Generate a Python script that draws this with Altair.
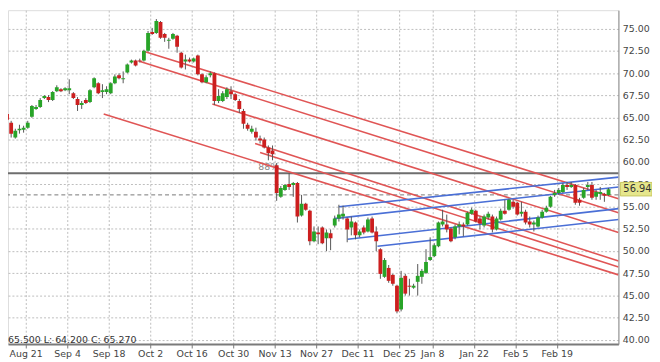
import altair as alt
import pandas as pd

# ---------------- data ----------------
day_index = list(range(-7, 141))
opens = [64.75, 65.30, 65.41, 64.41, 62.75, 63.58, 63.63, 63.86, 65.08, 65.97,
         66.19, 67.19, 67.30, 66.97, 67.97, 68.19, 68.08, 68.08, 67.74, 67.08,
         66.41, 66.97, 66.74, 68.41, 68.86, 67.86, 67.86, 67.74, 68.86, 69.75,
         69.30, 70.08, 71.19, 71.41, 71.41, 71.41, 72.52, 74.63, 74.52, 75.74,
         74.41, 73.63, 73.86, 74.19, 72.30, 71.30, 71.52, 71.30, 71.97, 69.86,
         68.97, 69.75, 69.97, 66.86, 66.86, 67.30, 67.97, 67.63, 66.86, 65.74,
         64.19, 63.41, 63.41, 62.63, 62.52, 61.63, 61.30, 59.63, 56.08, 56.86,
         57.52, 57.41, 57.63, 53.97, 55.30, 54.52, 51.08, 52.08, 52.63, 51.41,
         51.97, 52.86, 53.63, 53.86, 53.63, 52.63, 53.19, 51.75, 52.63, 52.19,
         53.63, 52.19, 50.19, 47.08, 48.08, 47.30, 46.08, 43.41, 47.19, 46.08,
         45.86, 46.52, 47.08, 47.52, 48.97, 49.41, 50.52, 52.97, 52.97, 52.52,
         51.52, 52.75, 52.97, 52.97, 54.19, 54.52, 53.63, 52.86, 53.75, 53.86,
         52.41, 53.52, 54.52, 54.63, 55.52, 55.41, 54.19, 54.41, 53.30, 52.97,
         52.75, 53.75, 54.41, 54.97, 56.30, 56.52, 56.63, 57.41, 57.19, 57.41,
         55.75, 55.97, 57.19, 57.41, 56.08, 56.41, 56.41, 56.30]
highs = [65.41, 65.52, 65.74, 64.63, 63.74, 64.19, 64.08, 64.63, 66.41, 66.41,
         67.19, 67.52, 67.52, 67.97, 68.63, 68.30, 68.41, 69.30, 67.86, 67.30,
         66.86, 67.19, 68.19, 69.52, 68.97, 68.75, 68.52, 68.97, 69.86, 69.97,
         70.19, 71.08, 71.52, 71.52, 71.63, 72.63, 74.74, 75.08, 76.08, 75.86,
         74.52, 73.97, 74.52, 74.30, 72.41, 72.08, 71.75, 71.75, 72.08, 69.97,
         69.75, 70.19, 70.08, 68.19, 67.97, 68.41, 68.52, 67.74, 67.08, 65.97,
         64.41, 64.08, 63.86, 62.97, 62.75, 61.86, 61.86, 59.86, 57.30, 57.52,
         58.75, 57.75, 57.75, 56.30, 55.41, 54.63, 52.75, 52.75, 52.75, 52.41,
         52.41, 53.97, 55.19, 55.08, 53.75, 53.86, 53.30, 52.41, 52.86, 53.75,
         53.86, 52.75, 50.30, 49.19, 48.41, 47.41, 46.19, 47.75, 47.41, 46.86,
         46.30, 48.52, 47.97, 50.19, 51.52, 50.86, 53.30, 54.63, 54.08, 52.63,
         52.97, 53.30, 53.19, 54.41, 54.86, 54.63, 53.86, 54.08, 54.41, 54.08,
         53.86, 54.75, 55.75, 55.86, 55.75, 55.52, 55.52, 54.63, 53.86, 53.41,
         53.97, 54.63, 55.08, 56.19, 56.86, 57.08, 57.63, 57.75, 57.75, 57.52,
         55.97, 57.08, 57.75, 57.75, 56.86, 57.19, 56.52, 57.08]
lows = [64.52, 63.63, 64.52, 62.75, 62.63, 63.19, 63.30, 63.74, 64.97, 65.86,
        66.08, 67.08, 66.74, 66.86, 67.86, 67.86, 67.97, 67.63, 67.08, 65.74,
        65.97, 66.52, 66.63, 68.30, 67.63, 67.19, 67.63, 67.63, 68.75, 69.30,
        68.86, 69.97, 71.08, 70.75, 71.19, 71.30, 72.41, 74.30, 74.41, 73.86,
        73.52, 72.74, 73.75, 72.30, 70.52, 70.41, 71.19, 71.19, 69.75, 68.86,
        68.86, 69.52, 66.41, 66.63, 66.74, 67.08, 67.08, 66.86, 65.52, 63.74,
        63.52, 63.19, 62.41, 62.08, 61.52, 60.19, 60.19, 55.63, 55.97, 56.75,
        56.86, 56.08, 53.19, 53.86, 54.52, 50.63, 50.97, 50.75, 50.75, 49.97,
        50.08, 52.63, 53.30, 53.52, 50.97, 51.75, 51.30, 51.52, 51.86, 52.08,
        51.97, 49.97, 46.86, 46.97, 46.41, 46.08, 42.97, 43.19, 44.97, 44.97,
        45.74, 44.97, 46.30, 47.41, 48.86, 49.30, 50.41, 52.75, 52.08, 50.97,
        51.30, 51.86, 51.63, 52.86, 54.08, 53.19, 52.41, 52.63, 53.52, 52.08,
        52.30, 53.41, 54.08, 54.52, 54.75, 53.97, 53.86, 52.97, 52.63, 52.19,
        52.63, 53.63, 54.30, 54.86, 56.08, 56.30, 56.52, 56.86, 57.08, 55.19,
        55.08, 55.86, 56.86, 55.75, 55.75, 55.75, 55.52, 56.19]
closes = [65.19, 64.86, 64.75, 63.19, 63.52, 63.74, 63.86, 64.41, 66.30, 66.19,
          66.97, 67.41, 66.97, 67.86, 68.41, 67.97, 68.30, 68.30, 67.19, 66.41,
          66.63, 66.63, 68.08, 69.41, 67.74, 68.08, 68.19, 68.86, 69.63, 69.41,
          69.41, 70.97, 71.41, 70.86, 71.30, 72.52, 74.52, 74.41, 75.86, 73.97,
          73.97, 73.75, 74.41, 72.97, 70.63, 71.52, 71.30, 71.63, 69.86, 68.97,
          69.52, 69.97, 66.86, 67.41, 67.74, 68.19, 67.63, 66.97, 65.97, 64.30,
          63.74, 63.74, 62.75, 62.41, 61.63, 60.97, 60.86, 56.52, 57.08, 57.41,
          57.19, 57.63, 53.86, 55.30, 54.63, 51.08, 52.19, 51.86, 50.86, 52.08,
          51.41, 53.63, 54.08, 54.19, 52.41, 53.30, 51.75, 52.19, 52.08, 53.52,
          52.08, 51.08, 47.41, 48.97, 46.63, 46.30, 43.19, 46.97, 45.19, 45.97,
          46.08, 47.19, 47.75, 48.75, 49.30, 50.63, 53.19, 53.30, 52.41, 51.08,
          52.75, 52.97, 52.75, 54.30, 54.63, 53.30, 53.08, 53.86, 54.19, 52.41,
          53.63, 54.52, 54.19, 55.75, 54.97, 54.08, 54.41, 53.19, 52.97, 53.19,
          53.75, 54.41, 54.86, 56.08, 56.52, 56.86, 57.41, 57.19, 57.41, 55.41,
          55.41, 56.86, 57.41, 55.97, 56.63, 56.63, 56.19, 56.94]

tick_days = [-0.5, 9.5, 19.5, 29.5, 39.5, 49.5, 59.5, 69.5, 79.5, 89.5,
             97.5, 107.5, 117.5, 127.5]
tick_labels = ["Aug 21", "Sep 4", "Sep 18", "Oct 2", "Oct 16", "Oct 30",
               "Nov 13", "Nov 27", "Dec 11", "Dec 25", "Jan 8", "Jan 22",
               "Feb 5", "Feb 19"]
price_ticks = [40.0, 42.5, 45.0, 47.5, 50.0, 52.5, 55.0, 57.5, 60.0, 62.5,
               65.0, 67.5, 70.0, 72.5, 75.0, 77.5]

# trend lines: (line id, start day, start price, end day, end price)
red_lines = [
    ("r1", 28.3, 72.41, 142.4, 55.86),
    ("r2", 27.1, 71.30, 142.4, 54.30),
    ("r3", 44.5, 66.52, 142.4, 52.08),
    ("r4", 18.3, 65.41, 142.4, 47.30),
    ("r5", 54.8, 62.08, 142.4, 48.86),
    ("r6", 56.0, 61.08, 142.4, 48.19),
]
blue_lines = [
    ("b1", 75.0, 54.97, 142.4, 58.30),
    ("b2", 73.8, 53.63, 142.4, 57.19),
    ("b3", 77.1, 51.30, 142.4, 54.75),
    ("b4", 84.3, 50.52, 142.4, 53.52),
]
level_line = 58.74
level_text_day = 58.1
last_close_line = 56.30
last_price = 56.94
level_text = "88%"
readout_text = "65.500  L: 64.200  C: 65.270"

X_DOMAIN = [-4.762, 142.38]
Y_DOMAIN = [39.52, 77.08]
W, H = 618, 338
FONT = "DejaVu Sans"

# ---------------- build ----------------
candles = pd.DataFrame({"day": day_index, "open": opens, "high": highs,
                        "low": lows, "close": closes})
candles["up"] = candles["close"] >= candles["open"]

label_expr = " : ".join(
    f"datum.value == {d} ? '{l}'" for d, l in zip(tick_days, tick_labels)
) + " : ''"

xscale = alt.Scale(domain=X_DOMAIN, nice=False, zero=False)
yscale = alt.Scale(domain=Y_DOMAIN, nice=False, zero=False)

x_axis = alt.Axis(values=tick_days, labelExpr=label_expr, orient="bottom",
                  title=None, grid=True, gridColor="#bdbdbd", gridDash=[2, 2],
                  gridWidth=1, domainColor="#7a7a7a", domainWidth=2,
                  tickColor="#7a7a7a", tickSize=4, labelPadding=1,
                  labelFont=FONT, labelFontSize=9.5, labelColor="#444",
                  labelFlush=False, labelOverlap=False)
y_axis = alt.Axis(values=price_ticks, format=".2f", orient="right",
                  title=None, grid=True, gridColor="#bdbdbd", gridDash=[2, 2],
                  gridWidth=1, domainColor="#8a8a8a", domainWidth=1,
                  ticks=False, labelPadding=4, labelFont=FONT,
                  labelFontSize=9.5, labelColor="#444", labelFlush=False,
                  labelOverlap=False)


def X(field):
    return alt.X(field, scale=xscale, axis=x_axis, title=None)


def Y(field):
    return alt.Y(field, scale=yscale, axis=y_axis, title=None)


base = alt.Chart(candles)

wicks = base.mark_rule(color="#555", strokeWidth=1, clip=True).encode(
    x=X("day:Q"), y=Y("low:Q"), y2="high:Q",
)
bodies = base.transform_calculate(
    x0="datum.day - 0.46", x1="datum.day + 0.46"
).mark_rect(clip=True).encode(
    x=X("x0:Q"), x2="x1:Q", y=Y("open:Q"), y2="close:Q",
    color=alt.Color("up:N", scale=alt.Scale(domain=[True, False],
                                            range=["#28a428", "#cc1f1f"]),
                    legend=None),
)


def seg_frame(lines):
    rows = []
    for name, d0, p0, d1, p1 in lines:
        rows.append({"id": name, "day": d0, "p": p0, "o": 0})
        rows.append({"id": name, "day": d1, "p": p1, "o": 1})
    return pd.DataFrame(rows)


red = alt.Chart(seg_frame(red_lines)).mark_line(
    color="#e05555", strokeWidth=1.6, clip=True).encode(
    x=X("day:Q"), y=Y("p:Q"), detail="id:N", order="o:Q")
blue = alt.Chart(seg_frame(blue_lines)).mark_line(
    color="#4a6fd6", strokeWidth=1.6, clip=True).encode(
    x=X("day:Q"), y=Y("p:Q"), detail="id:N", order="o:Q")

level = alt.Chart(pd.DataFrame({"p": [level_line]})).mark_rule(
    color="#6e6e6e", strokeWidth=2).encode(y=Y("p:Q"))
lastline = alt.Chart(pd.DataFrame({"p": [last_close_line]})).mark_rule(
    color="#777", strokeWidth=1, strokeDash=[4, 3]).encode(y=Y("p:Q"))

level_lbl = alt.Chart(pd.DataFrame({"day": [level_text_day],
                                    "p": [level_line],
                                    "t": [level_text]})).mark_text(
    font=FONT, fontSize=9.5, color="#888", align="center", baseline="bottom",
    dy=-1).encode(x=X("day:Q"), y=Y("p:Q"), text="t:N")

price_box = alt.Chart(pd.DataFrame({"lo": [last_price - 0.76],
                                    "hi": [last_price + 0.76]})).mark_rect(
    fill="#e6e68c", stroke="#c8c860", strokeWidth=1).encode(
    x=alt.value(620), x2=alt.value(652), y=Y("lo:Q"), y2="hi:Q")
price_txt = alt.Chart(pd.DataFrame({"p": [last_price],
                                    "t": [f"{last_price:.2f}"]})).mark_text(
    font=FONT, fontSize=10, color="#333", align="left",
    baseline="middle").encode(
    x=alt.value(623), y=Y("p:Q"), text="t:N")

readout = alt.Chart(pd.DataFrame({"t": [readout_text]})).mark_text(
    font=FONT, fontSize=9.5, color="#333", align="left",
    baseline="middle").encode(
    x=alt.value(0), y=alt.value(334), text="t:N")

chart = alt.layer(
    lastline, level, level_lbl, red, blue, wicks, bodies,
    readout, price_box, price_txt
).properties(
    width=W, height=H,
    autosize=alt.AutoSizeParams(type="none"),
    padding={"left": 0, "top": 0, "right": 34, "bottom": 16},
).configure_view(strokeWidth=0).configure(background="white")

chart.save("out.html", embed_options={"renderer": "svg", "actions": False})
